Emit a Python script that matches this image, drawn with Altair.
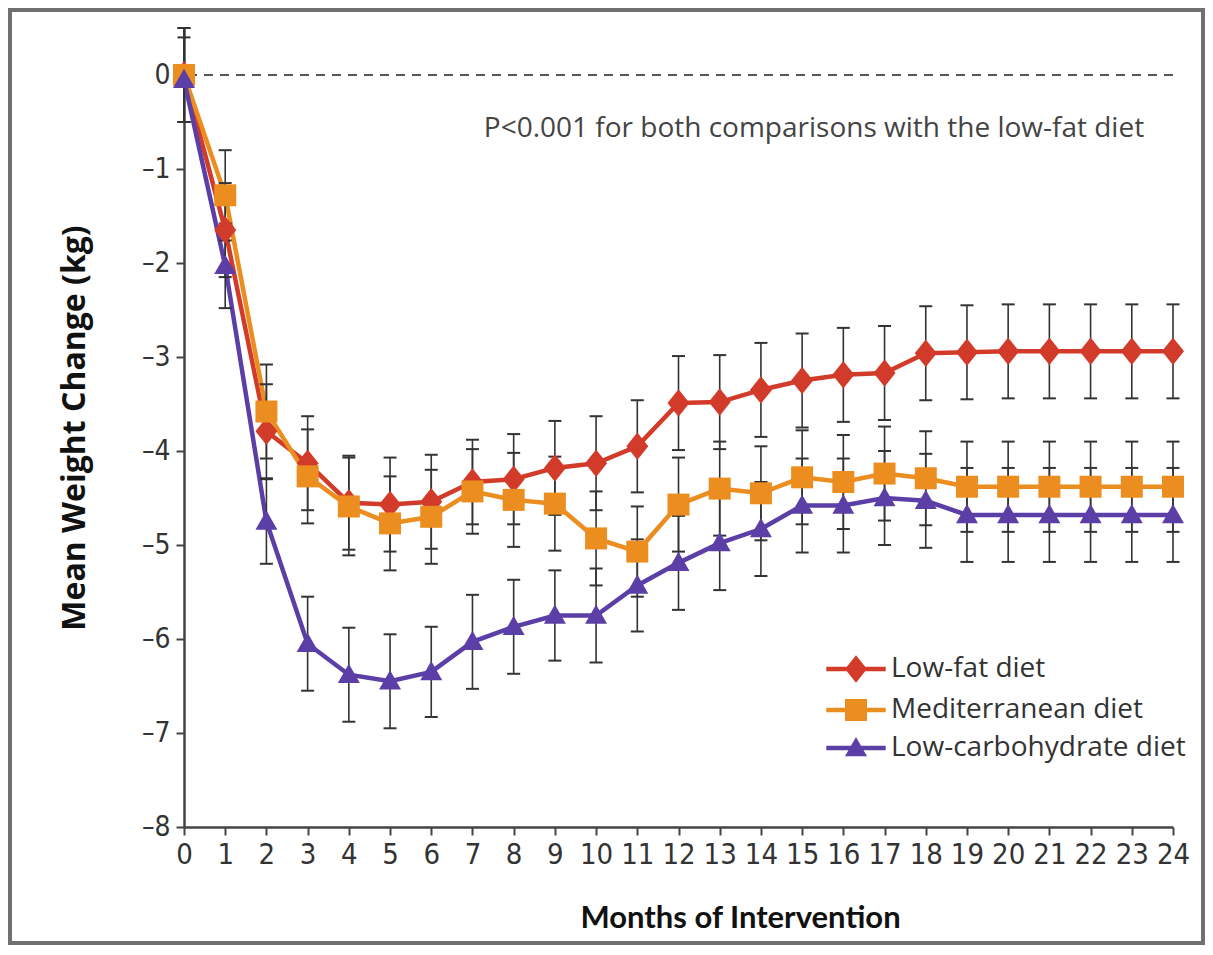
import altair as alt
import pandas as pd

months = list(range(25))
diets = ["Low-fat diet", "Mediterranean diet", "Low-carbohydrate diet"]

low_fat = [0.0, -1.65, -3.79, -4.13, -4.55, -4.57, -4.54, -4.33, -4.30, -4.18, -4.13, -3.95,
           -3.49, -3.48, -3.35, -3.25, -3.19, -3.17, -2.96, -2.95, -2.94, -2.94, -2.94, -2.94, -2.94]
mediterranean = [0.0, -1.28, -3.58, -4.27, -4.59, -4.77, -4.70, -4.43, -4.52, -4.56, -4.93, -5.07,
                 -4.57, -4.40, -4.45, -4.28, -4.33, -4.24, -4.29, -4.38, -4.38, -4.38, -4.38, -4.38, -4.38]
low_carb = [-0.05, -2.03, -4.75, -6.05, -6.38, -6.45, -6.35, -6.03, -5.87, -5.75, -5.75, -5.43,
            -5.19, -4.98, -4.83, -4.58, -4.58, -4.50, -4.53, -4.68, -4.68, -4.68, -4.68, -4.68, -4.68]

low_fat_err = [0.5, 0.5, 0.5, 0.5, 0.5, 0.5, 0.5, 0.45, 0.48, 0.5, 0.5, 0.49,
               0.5, 0.5, 0.5, 0.5, 0.5, 0.5, 0.5, 0.5, 0.5, 0.5, 0.5, 0.5, 0.5]
mediterranean_err = [0.5, 0.48, 0.5, 0.5, 0.52, 0.5, 0.5, 0.45, 0.5, 0.5, 0.5, 0.48,
                     0.5, 0.5, 0.5, 0.5, 0.5, 0.5, 0.5, 0.48, 0.48, 0.48, 0.48, 0.48, 0.48]
low_carb_err = [0.45, 0.45, 0.45, 0.5, 0.5, 0.5, 0.48, 0.5, 0.5, 0.48, 0.5, 0.49,
                0.5, 0.5, 0.5, 0.5, 0.5, 0.5, 0.5, 0.5, 0.5, 0.5, 0.5, 0.5, 0.5]

y_ticks = [0, -1, -2, -3, -4, -5, -6, -7, -8]
note = "P<0.001 for both comparisons with the low-fat diet"
x_title = "Months of Intervention"
y_title = "Mean Weight Change (kg)"

colors = ["#D23A2A", "#EB8D1F", "#5B3FA6"]

rows = []
for diet, vals, errs in [(diets[0], low_fat, low_fat_err),
                         (diets[1], mediterranean, mediterranean_err),
                         (diets[2], low_carb, low_carb_err)]:
    for m, v, e in zip(months, vals, errs):
        rows.append({"month": m, "diet": diet, "value": v, "lo": v - e, "hi": v + e})
df = pd.DataFrame(rows)

W, H = 989, 799

# marker shapes
DIAMOND = "M0,-1.25L1,0L0,1.25L-1,0Z"
SQUARE = "M-1,-1H1V1H-1Z"
TRIANGLE = "M0,-1L1,0.75L-1,0.75Z"
LINE = "M-2.7,-0.2H2.7V0.2H-2.7Z "
LEG_SHAPES = [LINE + DIAMOND, LINE + SQUARE, LINE + TRIANGLE]

narrow_font = "'Liberation Sans Narrow', 'DejaVu Sans Condensed', Roboto, sans-serif"
text_font = "'Open Sans', sans-serif"
title_font = "Lato, sans-serif"

x_scale = alt.Scale(domain=[0, 24], nice=False, zero=False)
y_scale = alt.Scale(domain=[-8, 0.5], nice=False, zero=False)

def color_scale():
    return alt.Scale(domain=diets, range=colors)

x_axis = alt.Axis(values=months, labelAngle=0, labelFont=narrow_font, labelFontSize=29,
                  labelColor="#333", tickSize=8, tickColor="#444", tickWidth=2,
                  domainColor="#444", domainWidth=2.5, labelPadding=5, grid=False,
                  labelFlush=False, labelOverlap=False,
                  titleFont=title_font, titleFontSize=31, titleFontWeight="bold",
                  titleColor="#111", titleX=556, titleY=91, titleBaseline="middle")
y_axis = alt.Axis(values=y_ticks, labelExpr="datum.value == 0 ? '0' : '\u2013' + abs(datum.value)",
                  labelFont=narrow_font, labelFontSize=28, labelColor="#333",
                  tickSize=8, tickColor="#444", tickWidth=2, domainColor="#444",
                  domainWidth=2.5, labelPadding=6, grid=False, labelFlush=False,
                  titleFont=text_font, titleFontSize=32, titleFontWeight="bold",
                  titleColor="#111", titleX=-110, titleY=H / 2, titleAngle=-90,
                  titleBaseline="middle", titleAlign="center")

def X(field):
    return alt.X(field, type="quantitative", scale=x_scale, axis=x_axis, title=x_title)

def Y(field):
    return alt.Y(field, type="quantitative", scale=y_scale, axis=y_axis, title=y_title)

legend = alt.Legend(
    title=None, orient="none", legendX=658, legendY=627, padding=0,
    labelFont=text_font, labelFontSize=28, labelColor="#333", labelLimit=500,
    symbolSize=484, labelOffset=21, rowPadding=10, symbolOpacity=1,
)

base = alt.Chart(df)

frame = alt.Chart(pd.DataFrame({"a": [0]})).mark_rect(
    fillOpacity=0, stroke="#707070", strokeWidth=4, clip=False
).encode(x=alt.value(-174), x2=alt.value(1019), y=alt.value(-18), y2=alt.value(915))

zero = alt.Chart(pd.DataFrame({"y": [0]})).mark_rule(
    strokeDash=[9, 7], color="#555", strokeWidth=2
).encode(y=Y("y"))

lines = base.mark_line(strokeWidth=4.5).encode(
    x=X("month"),
    y=Y("value"),
    color=alt.Color("diet:N", scale=color_scale(), sort=diets, legend=None),
    order="month:Q",
)

bars = base.mark_rule(color="#333", strokeWidth=1.6).encode(
    x=X("month"), y=Y("lo"), y2="hi:Q",
)
caps_lo = base.mark_tick(orient="horizontal", size=13, thickness=2, color="#333", opacity=1).encode(
    x=X("month"), y=Y("lo"),
)
caps_hi = base.mark_tick(orient="horizontal", size=13, thickness=2, color="#333", opacity=1).encode(
    x=X("month"), y=Y("hi"),
)

points = base.mark_point(filled=True, size=484, opacity=1).encode(
    x=X("month"),
    y=Y("value"),
    color=alt.Color("diet:N", scale=color_scale(), sort=diets, legend=None),
    shape=alt.Shape("diet:N", scale=alt.Scale(domain=diets, range=[DIAMOND, SQUARE, TRIANGLE]),
                    sort=diets, legend=None),
)

# legend-only layer (no data rows drawn)
legend_layer = base.transform_filter("false").mark_point(filled=True, size=484, opacity=1).encode(
    x=X("month"),
    y=Y("value"),
    color=alt.Color("diet:N", scale=color_scale(), sort=diets, legend=legend),
    shape=alt.Shape("diet:N", scale=alt.Scale(domain=diets, range=LEG_SHAPES),
                    sort=diets, legend=legend),
)

text = alt.Chart(pd.DataFrame({"x": [23.3], "y": [-0.57], "t": [note]})).mark_text(
    align="right", baseline="middle", font=text_font, fontSize=28, color="#444"
).encode(x=X("x"), y=Y("y"), text="t:N")

chart = alt.layer(frame, zero, lines, bars, caps_lo, caps_hi, points, legend_layer, text).resolve_scale(
    color="independent", shape="independent"
).properties(
    width=W, height=H,
    autosize=alt.AutoSizeParams(type="none"),
    padding={"left": 176, "top": 20, "right": 32, "bottom": 118},
).configure_view(stroke=None)

chart.save("out.html", embed_options={"renderer": "svg", "actions": False})
